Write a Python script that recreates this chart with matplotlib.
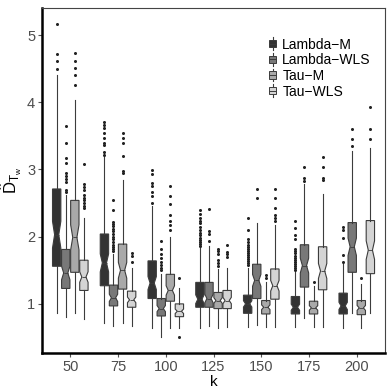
import matplotlib
matplotlib.use("Agg")
import matplotlib.pyplot as plt
from matplotlib.lines import Line2D
from matplotlib.patches import Rectangle
from matplotlib.legend_handler import HandlerBase
import numpy as np

plt.rcParams['font.family'] = ['Liberation Sans', 'DejaVu Sans']
plt.rcParams['mathtext.fontset'] = 'custom'
plt.rcParams['mathtext.rm'] = 'Liberation Sans'
plt.rcParams['mathtext.it'] = 'Liberation Sans'

# Data
k_values = [50, 75, 100, 125, 150, 175, 200]
methods = ["Lambda\u2212M", "Lambda\u2212WLS", "Tau\u2212M", "Tau\u2212WLS"]
colors = ["#333333", "#787878", "#a9a9a9", "#d4d4d4"]
n_samples = 82  # used for notch width (1.58 * IQR / sqrt(n))

# Lambda-M
lm_q1 = [1.56, 1.27, 1.08, 0.95, 0.86, 0.85, 0.85]
lm_med = [2.03, 1.61, 1.31, 1.07, 1.00, 0.95, 0.97]
lm_q3 = [2.71, 2.04, 1.64, 1.32, 1.13, 1.11, 1.16]
lm_lo = [0.87, 0.72, 0.64, 0.64, 0.65, 0.65, 0.64]
lm_hi = [4.40, 3.20, 2.45, 1.85, 1.54, 1.48, 1.60]
lm_out = [
    [5.17, 4.72, 4.62, 4.49],
    [3.70, 3.66, 3.62, 3.55, 3.47, 3.39, 3.36, 3.26, 3.22],
    [2.99, 2.94, 2.80, 2.75, 2.67, 2.61, 2.50],
    [2.40, 2.34, 2.28, 2.24, 2.20, 2.15, 2.10, 2.06, 2.02, 1.98, 1.95, 1.92, 1.89, 1.86],
    [2.28, 2.10, 1.97, 1.92, 1.88, 1.85, 1.82, 1.79, 1.76, 1.73, 1.70, 1.67, 1.64, 1.61, 1.58],
    [2.24, 2.13, 2.03, 1.96, 1.82, 1.78, 1.75, 1.72, 1.69, 1.66, 1.63, 1.60, 1.57, 1.54, 1.51],
    [2.14, 2.10, 1.98, 1.73, 1.63],
]

# Lambda-WLS
lw_q1 = [1.23, 0.97, 0.82, 0.95, 1.08, 1.25, 1.47]
lw_med = [1.46, 1.09, 0.93, 1.08, 1.35, 1.57, 1.85]
lw_q3 = [1.81, 1.28, 1.08, 1.32, 1.59, 1.88, 2.21]
lw_lo = [0.81, 0.67, 0.51, 0.67, 0.69, 0.79, 0.87]
lw_hi = [2.62, 1.74, 1.45, 1.86, 2.21, 2.78, 3.28]
lw_out = [
    [3.64, 3.39, 3.17, 3.10, 2.95, 2.90, 2.86, 2.82, 2.70, 2.67],
    [2.55, 2.40, 2.22, 2.19, 2.16, 2.12, 2.08, 2.04, 2.00, 1.96, 1.92, 1.88, 1.85, 1.82, 1.79],
    [1.93, 1.82, 1.74, 1.68, 1.63, 1.58, 1.54, 1.50],
    [2.41, 2.08, 2.04, 1.93],
    [2.71, 2.58],
    [3.04, 2.88, 2.83],
    [3.60, 3.45, 3.35],
]

# Tau-M
tm_q1 = [1.47, 1.22, 1.04, 0.93, 0.85, 0.85, 0.84]
tm_med = [1.99, 1.50, 1.20, 1.05, 0.95, 0.94, 0.94]
tm_q3 = [2.54, 1.89, 1.44, 1.17, 1.05, 1.04, 1.05]
tm_lo = [0.87, 0.72, 0.64, 0.64, 0.65, 0.66, 0.64]
tm_hi = [4.03, 2.85, 2.00, 1.52, 1.33, 1.27, 1.30]
tm_out = [
    [4.73, 4.62, 4.51, 4.40, 4.26],
    [3.55, 3.47, 3.39, 3.20, 2.98, 2.95],
    [2.76, 2.61, 2.49, 2.33, 2.24, 2.18, 2.10],
    [1.82, 1.78, 1.74, 1.66, 1.61, 1.57],
    [1.43, 1.38],
    [1.33],
    [1.38],
]

# Tau-WLS
tw_q1 = [1.20, 0.95, 0.81, 0.93, 1.07, 1.21, 1.45]
tw_med = [1.40, 1.06, 0.89, 1.05, 1.27, 1.49, 1.80]
tw_q3 = [1.65, 1.19, 1.00, 1.20, 1.52, 1.85, 2.24]
tw_lo = [0.77, 0.67, 0.64, 0.66, 0.66, 0.66, 0.87]
tw_hi = [2.28, 1.53, 1.23, 1.54, 2.18, 2.64, 3.32]
tw_out = [
    [3.08, 2.78, 2.74, 2.70, 2.62, 2.58, 2.54, 2.50, 2.46, 2.42],
    [1.75, 1.71, 1.62],
    [1.38, 0.50],
    [1.87, 1.77, 1.74, 1.70],
    [2.71, 2.58, 2.43, 2.32, 2.28, 2.24],
    [3.19, 3.04, 2.88, 2.84],
    [3.93, 3.60, 3.45],
]

series = [
    (lm_q1, lm_med, lm_q3, lm_lo, lm_hi, lm_out),
    (lw_q1, lw_med, lw_q3, lw_lo, lw_hi, lw_out),
    (tm_q1, tm_med, tm_q3, tm_lo, tm_hi, tm_out),
    (tw_q1, tw_med, tw_q3, tw_lo, tw_hi, tw_out),
]

EDGE = "#3c3c3c"


class BoxIconHandler(HandlerBase):
    # small boxplot glyph for the legend
    def create_artists(self, legend, orig_handle, xdescent, ydescent,
                       width, height, fontsize, trans):
        cx = width / 2 - xdescent
        bw = width * 0.9
        bh = height * 0.75
        by = (height - bh) / 2 - ydescent
        line = Line2D([cx, cx], [-ydescent - 1, height - ydescent + 1],
                      color=EDGE, lw=0.8, transform=trans)
        rect = Rectangle((cx - bw / 2, by), bw, bh,
                         facecolor=orig_handle.get_facecolor(),
                         edgecolor=EDGE, lw=0.7, transform=trans)
        mid = Line2D([cx - bw / 2, cx + bw / 2], [by + bh / 2, by + bh / 2],
                     color=EDGE, lw=0.7, transform=trans)
        return [line, rect, mid]


fig = plt.figure(figsize=(3.9, 3.9), dpi=100)
ax = fig.add_axes([0.108, 0.095, 0.879, 0.884])

step = 0.19
width = 0.175
offsets = [-1.5 * step, -0.5 * step, 0.5 * step, 1.5 * step]
base = np.arange(1, len(k_values) + 1)

for j, (q1, med, q3, lo, hi, out) in enumerate(series):
    stats = []
    for i in range(len(k_values)):
        iqr = q3[i] - q1[i]
        half = 1.58 * iqr / np.sqrt(n_samples)
        stats.append(dict(med=med[i], q1=q1[i], q3=q3[i],
                          whislo=lo[i], whishi=hi[i], fliers=out[i],
                          cilo=med[i] - half, cihi=med[i] + half))
    ax.bxp(stats, positions=base + offsets[j], widths=width,
           shownotches=True, showcaps=False, patch_artist=True,
           boxprops=dict(facecolor=colors[j], edgecolor=EDGE, linewidth=0.8),
           whiskerprops=dict(color=EDGE, linewidth=0.8),
           medianprops=dict(color=EDGE, linewidth=0.6),
           flierprops=dict(marker='o', markersize=2.2, markerfacecolor='#222222',
                           markeredgecolor='none'))

ax.set_xlim(0.41, 7.59)
ax.set_ylim(0.27, 5.40)
ax.set_xticks(base)
ax.set_xticklabels([str(k) for k in k_values])
ax.set_yticks([1, 2, 3, 4, 5])
ax.set_yticklabels(["1", "2", "3", "4", "5"])
ax.tick_params(axis='both', colors='#555555', labelcolor='#4d4d4d',
               labelsize=10.5, length=3, width=0.8, pad=2)

for s in ['left', 'bottom']:
    ax.spines[s].set_linewidth(1.8)
    ax.spines[s].set_color('black')
for s in ['top', 'right']:
    ax.spines[s].set_linewidth(0.8)
    ax.spines[s].set_color('#444444')

ax.set_xlabel("k", fontsize=11, labelpad=1)
ax.set_ylabel(r"$\hat{\mathrm{D}}_{\mathrm{T}_{w}}$", fontsize=12, labelpad=2)

handles = [Rectangle((0, 0), 1, 1, facecolor=c) for c in colors]
ax.legend(handles, methods, loc='upper left', bbox_to_anchor=(0.64, 0.935),
          frameon=False, fontsize=10, handlelength=0.6, handleheight=0.7,
          handletextpad=0.4, labelspacing=0.12, borderpad=0,
          handler_map={Rectangle: BoxIconHandler()})

plt.savefig("out.png", dpi=100)
